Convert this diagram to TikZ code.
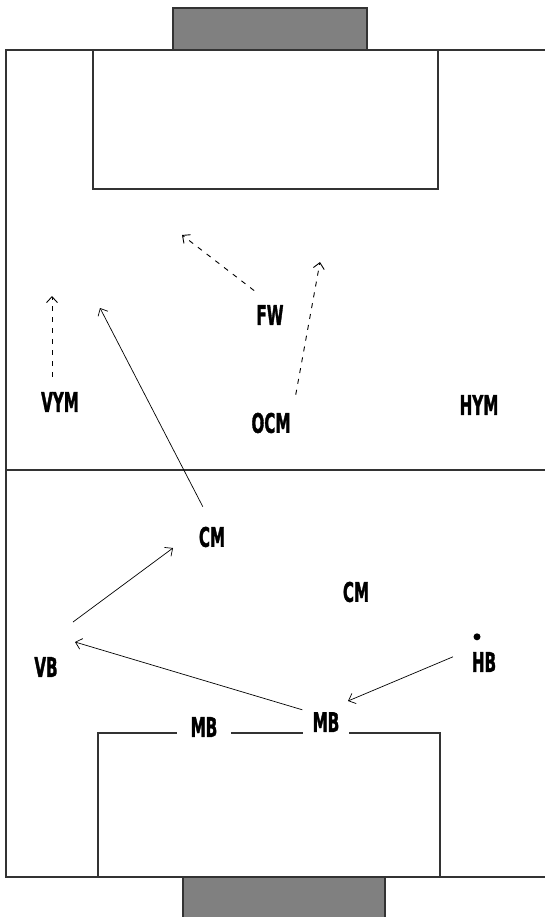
\documentclass[tikz,border=0pt]{standalone}
\usepackage{fontspec}
\newfontfamily\playerfont{DejaVu Sans}[FakeStretch=0.56,FakeBold=1.2]
\usetikzlibrary{arrows.meta}

\begin{document}
\begin{tikzpicture}[x=1pt,y=-1pt,line width=0.7pt,
		>={Straight Barb[length=6pt,width=11pt]},
		dashed/.style = {dash pattern=on 5pt off 6pt, line width=0.9pt},
		player/.style = {font=\playerfont\bfseries\fontsize{27}{27}\selectfont, inner sep=2pt},
		line/.style = {draw=black!80, line width=1.4pt},
		goal/.style = {line, fill=black!50}]
		\useasboundingbox (0,0) rectangle (545,917);
		
		%Pitch lines
		\draw[line] (545,50) -- (6,50) -- (6,877) -- (545,877);
		\draw[line] (6,470) -- (545,470); %Halfway line
		\draw[line] (93,50) rectangle (438,189); %Top box
		\draw[line] (98,733) rectangle (440,877); %Bottom box
		\draw[goal] (173,8) rectangle (367,50); %Top goal
		\fill[black!50] (183,877) rectangle (385,917); %Bottom goal
		\draw[line] (183,917) -- (183,877) -- (385,877) -- (385,917);
		
		%Create players in top half
		\node[player] (1) at (60,402) {VYM};
		\node[player] (2) at (270,315) {FW};
		\node[player] (3) at (271,423) {OCM};
		\node[player] (4) at (479,405) {HYM};
		%Create players in bottom half
		\node[player] (5) at (212,537) {CM};
		\node[player] (6) at (356,592) {CM};
		\node[player] (7) at (46,667) {VB};
		\node[player] (8) at (484,662) {HB};
		\node[player,fill=white,inner xsep=14pt] (9) at (204,727) {MB};
		\node[player,fill=white,inner xsep=10pt] (10) at (326,722) {MB};
		\fill ([xshift=-7pt,yshift=13pt]8.north) circle (3.5pt); %Ball
		
		%Run and pass targets
		\coordinate (11) at (52,296);
		\coordinate (12) at (182,235);
		\coordinate (13) at (320,262);
		\coordinate (14) at (100,308);
		\coordinate (15) at (173,548);
		\coordinate (16) at (73,622);
		\coordinate (17) at (75,642);
		\coordinate (18) at (348,701);
		
		%Passes
		\path [->] (8.north west) edge[shorten <=18pt] (18); %HB -> MB
		\path [->] (10.north west) edge (17); %MB -> VB
		\path [->] (16) edge (15); %VB -> CM
		\path [->] (5.north) edge[shorten <=20pt] (14); %CM -> wing
		
		%Runs
		\draw[->,dashed,shorten <=13pt] (1.north -| 11) -- (11); %VYM
		\draw[->,dashed,shorten <=20pt] (2.north) -- (12); %FW
		\draw[->,dashed,shorten <=16pt] (3.north east) -- (13); %OCM
		
	\end{tikzpicture}
\end{document}
